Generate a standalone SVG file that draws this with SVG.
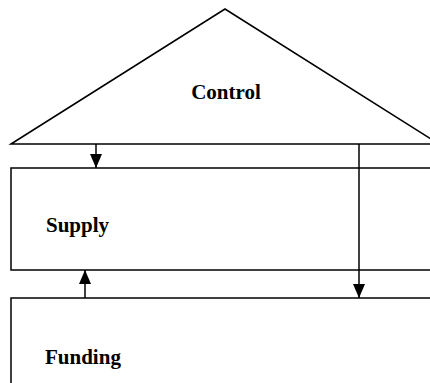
<svg xmlns="http://www.w3.org/2000/svg" width="430" height="383" viewBox="0 0 430 383">
<style>
.shape{fill:#fff;stroke:#000;stroke-width:1.5}
.lbl{font-family:"Liberation Serif",serif;font-weight:bold;font-size:21px;fill:#000}
.conn{stroke:#000;stroke-width:1.5;fill:none}
</style>
<defs>
<marker id="ah" viewBox="0 0 14 12" refX="14" refY="6" markerWidth="14" markerHeight="12" markerUnits="userSpaceOnUse" orient="auto">
<path d="M0,0 L14,6 L0,12 z" fill="#000"/>
</marker>
</defs>
<g id="control">
<polygon class="shape" points="11,144 225,9 439,144"/>
<text class="lbl" x="226" y="99" text-anchor="middle">Control</text>
</g>
<g id="supply">
<rect class="shape" x="11" y="168" width="430" height="102"/>
<text class="lbl" x="46" y="232">Supply</text>
</g>
<g id="funding">
<rect class="shape" x="11" y="298" width="430" height="100"/>
<text class="lbl" x="45" y="364">Funding</text>
</g>
<g id="connectors">
<line class="conn" x1="96" y1="144" x2="96" y2="168" marker-end="url(#ah)"/>
<line class="conn" x1="359" y1="144" x2="359" y2="298" marker-end="url(#ah)"/>
<line class="conn" x1="85" y1="298" x2="85" y2="270" marker-end="url(#ah)"/>
</g>
</svg>
